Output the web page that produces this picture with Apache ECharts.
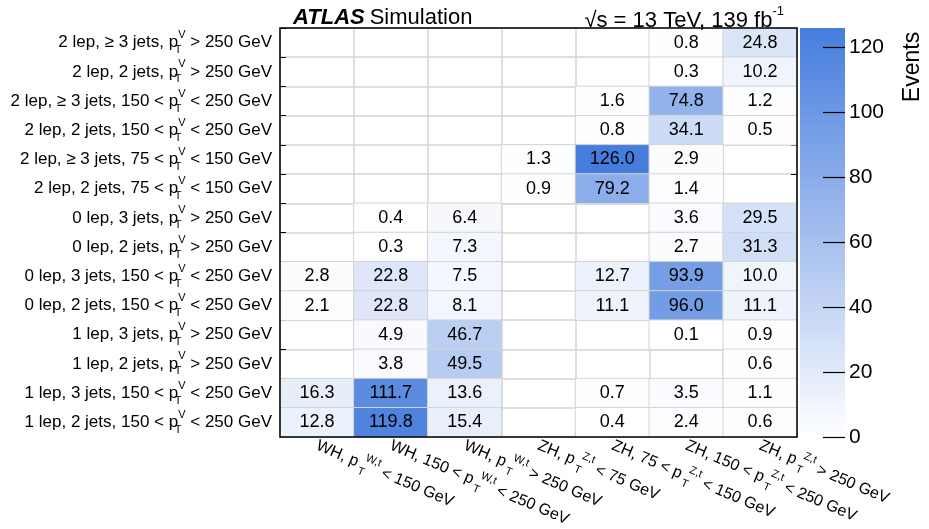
<!DOCTYPE html>
<html>
<head>
<meta charset="utf-8">
<script src="https://cdn.jsdelivr.net/npm/echarts@6/dist/echarts.min.js"></script>
<style>
html,body{margin:0;padding:0;background:#fff;}
#main{width:929px;height:529px;}
</style>
</head>
<body>
<div id="main"></div>
<script>
// truth bins (columns) and reco categories (rows, top to bottom)
var xLabels = ['WH, p_T^{W,t} < 150 GeV', 'WH, 150 < p_T^{W,t} < 250 GeV', 'WH, p_T^{W,t} > 250 GeV',
    'ZH, p_T^{Z,t} < 75 GeV', 'ZH, 75 < p_T^{Z,t} < 150 GeV', 'ZH, 150 < p_T^{Z,t} < 250 GeV', 'ZH, p_T^{Z,t} > 250 GeV'];
var yLabels = [
    '2 lep, ≥ 3 jets, p_T^V > 250 GeV',
    '2 lep, 2 jets, p_T^V > 250 GeV',
    '2 lep, ≥ 3 jets, 150 < p_T^V < 250 GeV',
    '2 lep, 2 jets, 150 < p_T^V < 250 GeV',
    '2 lep, ≥ 3 jets, 75 < p_T^V < 150 GeV',
    '2 lep, 2 jets, 75 < p_T^V < 150 GeV',
    '0 lep, 3 jets, p_T^V > 250 GeV',
    '0 lep, 2 jets, p_T^V > 250 GeV',
    '0 lep, 3 jets, 150 < p_T^V < 250 GeV',
    '0 lep, 2 jets, 150 < p_T^V < 250 GeV',
    '1 lep, 3 jets, p_T^V > 250 GeV',
    '1 lep, 2 jets, p_T^V > 250 GeV',
    '1 lep, 3 jets, 150 < p_T^V < 250 GeV',
    '1 lep, 2 jets, 150 < p_T^V < 250 GeV'
];
// events per cell, null = empty
var events = [
    [null, null, null, null, null, 0.8, 24.8],
    [null, null, null, null, null, 0.3, 10.2],
    [null, null, null, null, 1.6, 74.8, 1.2],
    [null, null, null, null, 0.8, 34.1, 0.5],
    [null, null, null, 1.3, 126.0, 2.9, null],
    [null, null, null, 0.9, 79.2, 1.4, null],
    [null, 0.4, 6.4, null, null, 3.6, 29.5],
    [null, 0.3, 7.3, null, null, 2.7, 31.3],
    [2.8, 22.8, 7.5, null, 12.7, 93.9, 10.0],
    [2.1, 22.8, 8.1, null, 11.1, 96.0, 11.1],
    [null, 4.9, 46.7, null, null, 0.1, 0.9],
    [null, 3.8, 49.5, null, null, null, 0.6],
    [16.3, 111.7, 13.6, null, 0.7, 3.5, 1.1],
    [12.8, 119.8, 15.4, null, 0.4, 2.4, 0.6]
];
var zMax = 126;
var zTicks = 20;

var heat = [];
for (var r = 0; r < events.length; r++) {
    for (var c = 0; c < events[r].length; c++) {
        if (events[r][c] != null) heat.push([c, r, events[r][c]]);
    }
}

// p_T^X -> p with stacked sub T / sup X
function toRich(s) {
    return s.replace(/p_T\^\{?([^}\s]+)\}?/, function (m, sup) {
        return '{p|p}{sub|T}{sup|' + sup + '}';
    });
}

var chart = echarts.init(document.getElementById('main'));
var option = {
    animation: false,
    textStyle: {fontFamily: 'Liberation Sans, Arial, sans-serif', color: '#000'},
    title: [{
        left: 288, top: 2,
        text: '{a|ATLAS} {b|Simulation}',
        textStyle: {rich: {
            a: {fontSize: 22, fontWeight: 'bold', fontStyle: 'italic', color: '#000'},
            b: {fontSize: 22, fontWeight: 'normal', color: '#000'}
        }}
    }, {
        right: 140, top: 0,
        text: '{b|√s = 13 TeV, 139 fb}{s|-1}',
        textStyle: {rich: {
            b: {fontSize: 22, fontWeight: 'normal', color: '#000', lineHeight: 28, verticalAlign: 'bottom', height: 24},
            s: {fontSize: 13, fontWeight: 'normal', color: '#000', lineHeight: 14, verticalAlign: 'top'}
        }}
    }],
    grid: [
        {left: 280, top: 28, width: 517, height: 409, show: true, borderColor: '#000', borderWidth: 1.5, z: 10,
            outerBoundsMode: 'none'},
        {left: 800, top: 28, width: 45, height: 409, outerBoundsMode: 'none'}
    ],
    visualMap: {
        show: false, seriesIndex: 0, min: 0, max: zMax,
        inRange: {color: ['#ffffff', '#467ddc']}
    },
    xAxis: [{
        type: 'category', gridIndex: 0, data: xLabels,
        axisLine: {show: false},
        axisTick: {show: true, inside: true, length: 5, lineStyle: {color: '#000'}},
        splitLine: {show: true, lineStyle: {color: '#d4d4d4', width: 1.5}},
        axisLabel: {
            interval: 0, rotate: -23, fontSize: 16, color: '#000', margin: 8,
            formatter: function (v) { return toRich(v); },
            rich: {
                p: {fontSize: 16, lineHeight: 26},
                sup: {fontSize: 11, lineHeight: 12, verticalAlign: 'top', align: 'left', padding: [0, 0, 0, 3]},
                sub: {fontSize: 11, lineHeight: 12, verticalAlign: 'bottom', width: 0, align: 'left', padding: [0, 0, 0, 3]}
            }
        }
    }, {
        type: 'category', gridIndex: 1, data: ['z'], show: false
    }],
    yAxis: [{
        type: 'category', gridIndex: 0, data: yLabels, inverse: true,
        axisLine: {show: false},
        axisTick: {show: true, inside: true, length: 6, lineStyle: {color: '#000'}},
        splitLine: {show: true, lineStyle: {color: '#d4d4d4', width: 1.5}},
        axisLabel: {
            interval: 0, fontSize: 17, color: '#000', margin: 8,
            formatter: function (v) { return toRich(v); },
            rich: {
                p: {fontSize: 17, lineHeight: 26},
                sup: {fontSize: 11, lineHeight: 11, verticalAlign: 'top', align: 'left'},
                sub: {fontSize: 11, lineHeight: 11, verticalAlign: 'bottom', width: 0, align: 'left'}
            }
        }
    }, {
        type: 'category', gridIndex: 0, data: yLabels, inverse: true, position: 'right',
        axisLine: {show: false},
        axisTick: {show: true, inside: true, length: 6, lineStyle: {color: '#000'}},
        axisLabel: {show: false}
    }, {
        type: 'value', gridIndex: 1, position: 'right', min: 0, max: zMax, interval: zTicks, z: 5,
        axisLine: {show: false},
        splitLine: {show: false},
        axisTick: {show: true, inside: true, length: 22, lineStyle: {color: '#000', width: 1.2}},
        axisLabel: {fontSize: 21, color: '#000', margin: 4, showMaxLabel: false}
    }],
    graphic: [{
        type: 'text', x: 913, y: 67, rotation: Math.PI / 2,
        style: {text: 'Events', fontSize: 23, fill: '#000', align: 'center', verticalAlign: 'middle',
            fontFamily: 'Liberation Sans, Arial, sans-serif'}
    }],
    series: [{
        type: 'heatmap', xAxisIndex: 0, yAxisIndex: 0, data: heat,
        itemStyle: {borderColor: '#d4d4d4', borderWidth: 1},
        label: {
            show: true, fontSize: 18, color: '#000',
            formatter: function (p) { return p.value[2].toFixed(1); }
        }
    }, {
        type: 'bar', xAxisIndex: 1, yAxisIndex: 2, data: [zMax], barWidth: '100%', silent: true, z: 1,
        itemStyle: {color: new echarts.graphic.LinearGradient(0, 0, 0, 1, [
            {offset: 0, color: '#467ddc'}, {offset: 1, color: '#ffffff'}
        ])}
    }]
};
chart.setOption(option);
</script>
</body>
</html>
